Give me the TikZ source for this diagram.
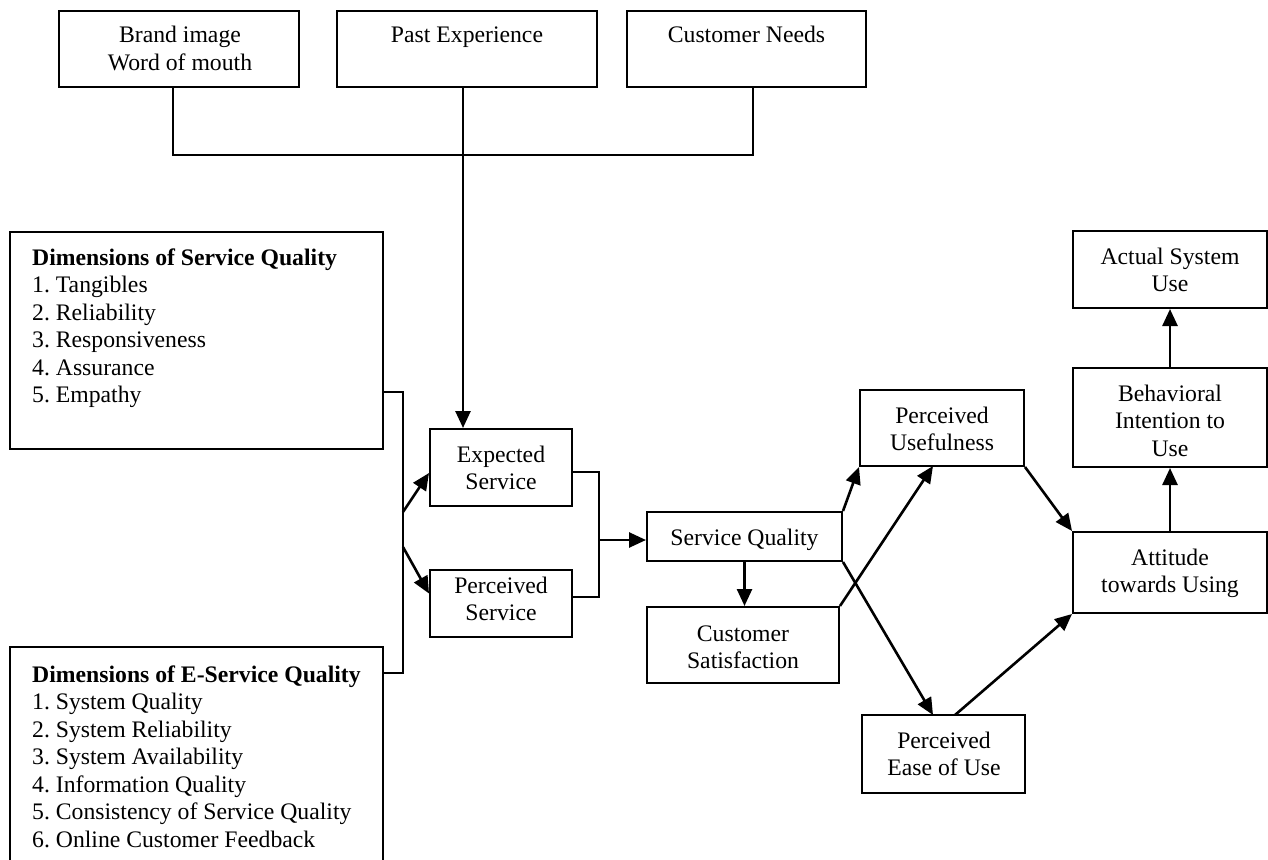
\documentclass[tikz,border=0pt]{standalone}
\usepackage{fontspec}
\setmainfont{Liberation Serif}
\usetikzlibrary{arrows.meta}
\frenchspacing

\tikzset{
  box/.style={draw, line width=2pt, inner sep=0pt, minimum width=#1},
  lbl/.style={anchor=base, inner sep=0pt},
  lbll/.style={anchor=base west, inner sep=0pt},
  conn/.style={line width=2pt},
  arr/.style={line width=2.6pt, -{Triangle[length=17pt,width=15pt]}},
}
\newcommand{\centrelines}[1]{\begin{tabular}[t]{@{}c@{}}#1\end{tabular}}
\newcommand{\leftlines}[1]{\begin{tabular}[t]{@{}l@{}}#1\end{tabular}}

\begin{document}
\begin{tikzpicture}[x=1pt, y=-1pt, font=\fontsize{23.7pt}{27.5pt}\selectfont]
\useasboundingbox[fill=white] (0,0) rectangle (1268,859);

% antecedents of expected service
\node[box=240, minimum height=76] (brand) at (179,49) {};
\node[box=260, minimum height=76] (past)  at (467,49) {};
\node[box=239, minimum height=76] (needs) at (746.5,49) {};
\node[lbl] (tbrand) at (180,43) {\centrelines{Brand image\\Word of mouth}};
\node[lbl] (tpast)  at (467,43) {Past Experience};
\node[lbl] (tneeds) at (746.5,43) {Customer Needs};

% dimension lists
\node[box=373, minimum height=217] (sqd) at (196.5,340.5) {};
\node[lbll] (tsqd) at (32,265) {\leftlines{\textbf{Dimensions of Service Quality}\\
  1. Tangibles\\2. Reliability\\3. Responsiveness\\4. Assurance\\5. Empathy}};
\node[minimum width=373, minimum height=240, inner sep=0pt] (esd) at (196.5,767) {};
\draw[conn] (esd.south west) -- (esd.north west) -- (esd.north east) -- (esd.south east);
\node[lbll] (tesd) at (32,682) {\leftlines{\textbf{Dimensions of E-Service Quality}\\
  1. System Quality\\2. System Reliability\\3. System Availability\\4. Information Quality\\
  5. Consistency of Service Quality\\6. Online Customer Feedback}};

% service gap model
\node[box=142, minimum height=77] (expected)  at (501,467.5) {};
\node[box=142, minimum height=67] (perceived) at (501,603.5) {};
\node[box=195, minimum height=49] (sq) at (744.5,536.5) {};
\node[box=192, minimum height=76] (cs) at (743,645) {};
\node[lbl] (texp)  at (501,462) {\centrelines{Expected\\Service}};
\node[lbl] (tperc) at (501,593) {\centrelines{Perceived\\Service}};
\node[lbl] (tsq)   at (744.5,545) {Service Quality};
\node[lbl] (tcs)   at (743,641) {\centrelines{Customer\\Satisfaction}};

% technology acceptance model
\node[box=164, minimum height=76] (pu)  at (942,428) {};
\node[box=163, minimum height=78] (pe)  at (943.5,754) {};
\node[box=194, minimum height=81] (att) at (1170,572.5) {};
\node[box=194, minimum height=99] (bi)  at (1170,417.5) {};
\node[box=194, minimum height=77] (asu) at (1170,269.5) {};
\node[lbl] (tpu)  at (942,423) {\centrelines{Perceived\\Usefulness}};
\node[lbl] (tpe)  at (944,748) {\centrelines{Perceived\\Ease of Use}};
\node[lbl] (tatt) at (1170,565) {\centrelines{Attitude\\towards Using}};
\node[lbl] (tbi)  at (1170,401) {\centrelines{Behavioral\\Intention to\\Use}};
\node[lbl] (tasu) at (1170,264) {\centrelines{Actual System\\Use}};

% junction points
\coordinate (bl) at (173,155);
\coordinate (br) at (753,155);
\coordinate (jx) at (463,155);
\coordinate (k1) at (403,392);
\coordinate (k2) at (403,673);
\coordinate (ka) at (403,512);
\coordinate (kb) at (403,547);
\coordinate (m1) at (599,472);
\coordinate (m2) at (599,597);
\coordinate (m3) at (599,540);
\coordinate (pux) at (933,466);
\coordinate (pex) at (933,715);
\coordinate (pes) at (955,715);

% connectors
\draw[conn] (brand.south -| bl) -- (bl) -- (br) -- (needs.south -| br);
\draw[arr] (past.south -| jx) -- (expected.north -| jx);
\draw[conn] (sqd.east |- k1) -- (k1) -- (k2) -- (esd.east |- k2);
\draw[arr] (ka) -- ([yshift=-5.5pt]expected.west);
\draw[arr] (kb) -- ([yshift=10pt]perceived.west);
\draw[conn] (expected.east |- m1) -- (m1) -- (m2) -- (perceived.east |- m2);
\draw[arr] (m3) -- (sq.west |- m3);
\draw[arr] (sq.south) -- (sq.south |- cs.north);
\draw[arr] (sq.north east) -- (pu.south west);
\draw[arr] (cs.north east) -- (pux);
\draw[arr] (sq.south east) -- (pex);
\draw[arr] (pu.south east) -- (att.north west);
\draw[arr] (pes) -- (att.south west);
\draw[arr] (att.north) -- (bi.south);
\draw[arr] (bi.north) -- (asu.south);
\end{tikzpicture}
\end{document}
